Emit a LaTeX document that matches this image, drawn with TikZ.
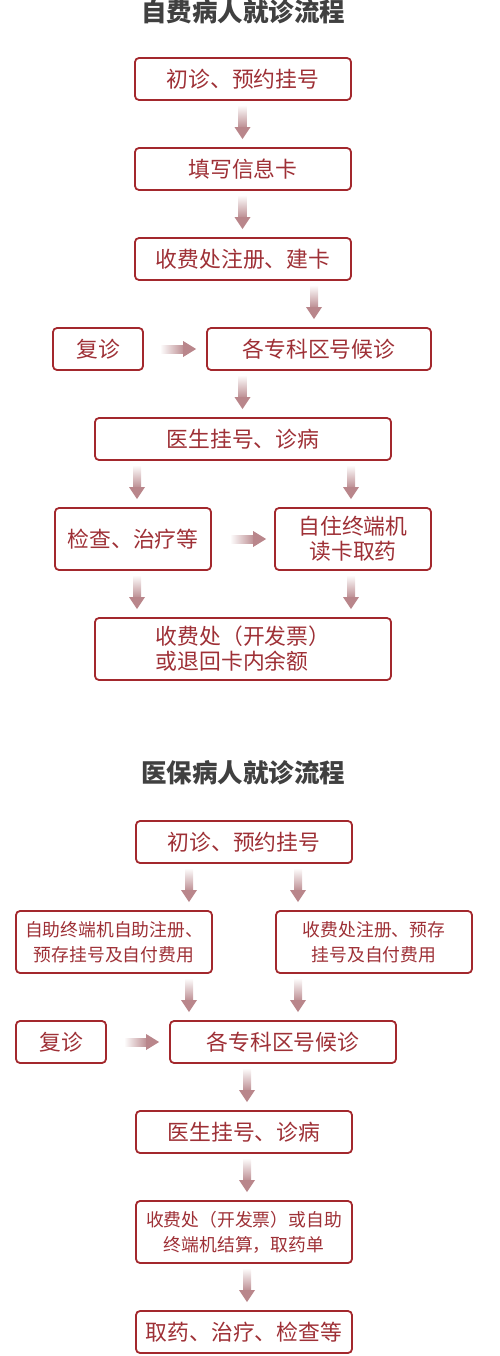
\documentclass[tikz,border=0pt]{standalone}
\usepackage{fontspec}
\setmainfont{Noto Sans CJK SC}
\usetikzlibrary{calc}
\definecolor{boxc}{RGB}{163,40,45}
\definecolor{textc}{RGB}{158,48,54}
\definecolor{titlec}{RGB}{64,64,64}
\definecolor{shaftc}{RGB}{190,145,149}
\definecolor{headc}{RGB}{185,134,139}
\newcommand\darr[3]{%
  \path (#1,0 |- #2.south) ++(0,4) coordinate (aT);
  \path (#1,0 |- #3.north) ++(0,-8) coordinate (aB);
  \shade[top color=white,bottom color=shaftc] ($(aT)+(-4,0)$) rectangle ($(aB)+(4,-12)$);
  \fill[headc] ($(aB)+(-8,-12)$) -- ($(aB)+(8,-12)$) -- (aB) -- cycle;
}
\newcommand\rarr[4]{%
  \path (#1.east) ++(#3,0) coordinate (aT);
  \path (#2.west |- aT) ++(-#4,0) coordinate (aB);
  \shade[left color=white,right color=shaftc] ($(aT)+(0,-4)$) rectangle ($(aB)+(-13,4)$);
  \fill[headc] ($(aB)+(-13,-8)$) -- ($(aB)+(-13,8)$) -- (aB) -- cycle;
}
\tikzset{
  box/.style={draw=boxc, line width=1.8pt, rounded corners=4pt, text=textc,
    inner sep=0pt, align=center, font=\fontsize{21.8}{25}\selectfont},
  smallbox/.style={box, font=\fontsize{17.8}{25}\selectfont},
  ttl/.style={text=titlec, font=\fontsize{25.5}{28}\selectfont\bfseries},
}
\begin{document}
\begin{tikzpicture}[x=1pt,y=-1pt]
\useasboundingbox (0,0) rectangle (500,1356);
% Section 1
\node[ttl] (t1) at (243,12) {自费病人就诊流程};
\node[box, minimum width=216, minimum height=42] (b1) at (243,79) {初诊、预约挂号};
\node[box, minimum width=216, minimum height=42] (b2) at (243,169) {填写信息卡};
\node[box, minimum width=216, minimum height=42] (b3) at (243,259) {收费处注册、建卡};
\node[box, minimum width=90, minimum height=42] (f1) at (98,349) {复诊};
\node[box, minimum width=224, minimum height=42] (q1) at (319,349) {各专科区号候诊};
\node[box, minimum width=296, minimum height=42] (d1) at (243,439) {医生挂号、诊病};
\node[box, minimum width=156, minimum height=62] (c1) at (133,539) {检查、治疗等};
\node[box, minimum width=156, minimum height=62] (z1) at (353,539) {自住终端机\\读卡取药};
\node[box, minimum width=296, minimum height=62, align=left] (p1) at (243,649) {收费处（开发票）\\或退回卡内余额};
\darr{242.5}{b1}{b2}
\darr{242.5}{b2}{b3}
\darr{314}{b3}{q1}
\rarr{f1}{q1}{16}{10}
\darr{242.5}{q1}{d1}
\darr{137}{d1}{c1}
\darr{351}{d1}{z1}
\rarr{c1}{z1}{18}{8}
\darr{137}{c1}{p1}
\darr{351}{z1}{p1}
% Section 2
\node[ttl] (t2) at (243,773) {医保病人就诊流程};
\node[box, minimum width=216, minimum height=42] (e1) at (244,842) {初诊、预约挂号};
\node[smallbox, minimum width=196, minimum height=62] (l2) at (114,942) {自助终端机自助注册、\\预存挂号及自付费用};
\node[smallbox, minimum width=196, minimum height=62] (r2) at (374,942) {收费处注册、预存\\挂号及自付费用};
\node[box, minimum width=90, minimum height=42] (f2) at (61,1042) {复诊};
\node[box, minimum width=226, minimum height=42] (q2) at (283,1042) {各专科区号候诊};
\node[box, minimum width=216, minimum height=42] (d2) at (244,1132) {医生挂号、诊病};
\node[smallbox, minimum width=216, minimum height=62] (s2) at (244,1232) {收费处（开发票）或自助\\终端机结算，取药单};
\node[box, minimum width=216, minimum height=42] (g2) at (244,1332) {取药、治疗、检查等};
\darr{189}{e1}{l2}
\darr{298}{e1}{r2}
\darr{189}{l2}{q2}
\darr{298}{r2}{q2}
\rarr{f2}{q2}{17}{10}
\darr{247}{q2}{d2}
\darr{247}{d2}{s2}
\darr{247}{s2}{g2}
\end{tikzpicture}
\end{document}
